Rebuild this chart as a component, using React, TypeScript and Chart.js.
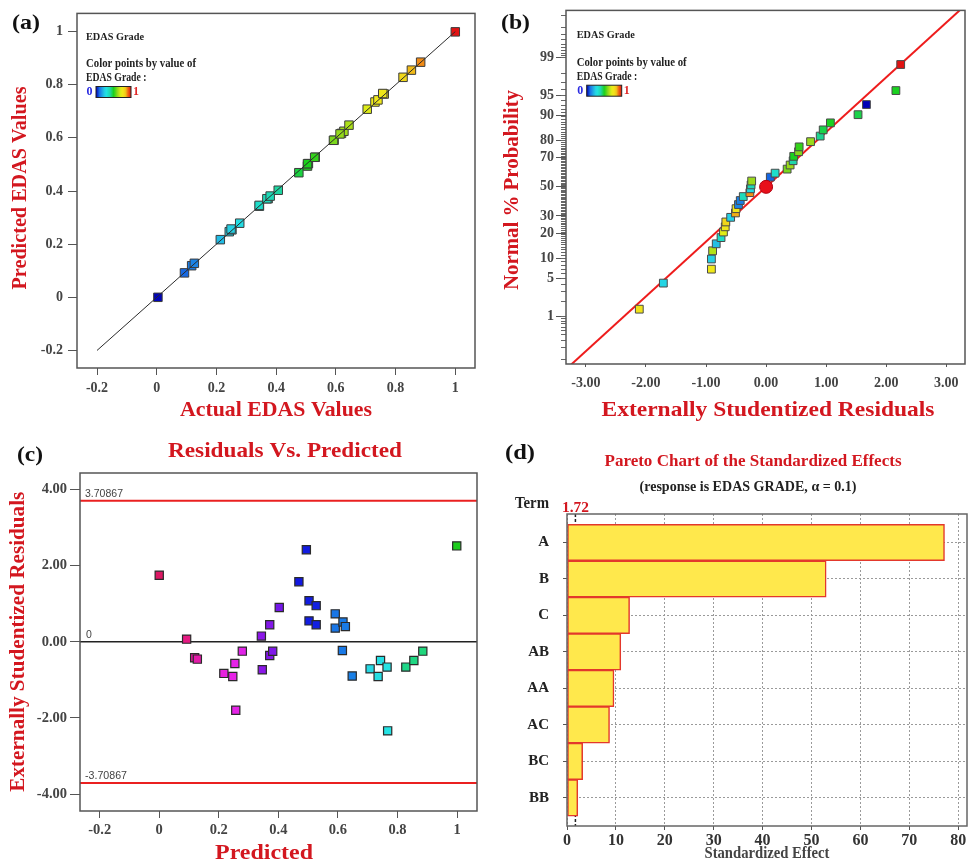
import React, { useEffect, useRef } from 'react';
import { Chart, registerables } from 'chart.js';

Chart.register(...registerables);

// ---------- run data (36 runs) ----------
const runPredicted = [0.000, 0.092, 0.119, 0.128, 0.217, 0.247, 0.254, 0.257, 0.279, 0.343, 0.346, 0.371, 0.371, 0.381, 0.403, 0.469, 0.494, 0.503, 0.503, 0.527, 0.527, 0.591, 0.591, 0.617, 0.625, 0.615, 0.648, 0.708, 0.735, 0.743, 0.765, 0.767, 0.828, 0.855, 0.885, 0.999];
const runActual = [0.004, 0.093, 0.117, 0.126, 0.213, 0.243, 0.252, 0.249, 0.278, 0.344, 0.343, 0.373, 0.369, 0.380, 0.407, 0.476, 0.505, 0.508, 0.505, 0.531, 0.529, 0.594, 0.592, 0.619, 0.627, 0.614, 0.644, 0.705, 0.731, 0.741, 0.762, 0.757, 0.825, 0.853, 0.884, 1.000];
const runResidual = [1.75, 0.07, -0.42, -0.455, -0.83, -0.91, -0.57, -1.80, -0.245, 0.15, -0.735, 0.45, -0.36, -0.25, 0.90, 1.58, 2.42, 1.08, 0.55, 0.95, 0.45, 0.735, 0.36, 0.52, 0.40, -0.23, -0.90, -0.71, -0.91, -0.49, -0.665, -2.34, -0.665, -0.49, -0.245, 2.52];

// ---------- normal probability plot ----------
const normalResiduals = [-2.11, -1.71, -0.91, -0.91, -0.89, -0.83, -0.75, -0.71, -0.68, -0.67, -0.59, -0.51, -0.50, -0.46, -0.43, -0.38, -0.27, -0.26, -0.25, -0.24, 0.07, 0.15, 0.35, 0.40, 0.45, 0.46, 0.54, 0.55, 0.74, 0.90, 0.95, 1.07, 1.53, 1.67, 2.16, 2.24];
const normalPercent = [1.39, 4.17, 6.94, 9.72, 12.5, 15.28, 18.06, 20.83, 23.61, 26.39, 29.17, 31.94, 34.72, 37.5, 40.28, 43.06, 45.83, 48.61, 51.39, 54.17, 56.94, 59.72, 62.5, 65.28, 68.06, 70.83, 73.61, 76.39, 79.17, 81.94, 84.72, 87.5, 90.28, 93.06, 95.83, 98.61];
const normalGrade = [0.77, 0.26, 0.74, 0.25, 0.65, 0.22, 0.35, 0.71, 0.76, 0.83, 0.25, 0.86, 0.74, 0.13, 0.12, 0.37, 0.88, 0.28, 0.38, 0.62, 0.09, 0.34, 0.59, 0.62, 0.40, 0.50, 0.60, 0.53, 0.62, 0.42, 0.47, 0.50, 0.47, 0.00, 0.50, 1.00];
const normalLineX = [-3.4, 3.4];
const normalLineZ = [-3.35, 3.35];
const probabilityTicks = [1, 5, 10, 20, 30, 50, 70, 80, 90, 95, 99];
const normalResidualTicks = [-3, -2, -1, 0, 1, 2, 3];

// ---------- shared tick values ----------
const unitTicks = [-0.2, 0, 0.2, 0.4, 0.6, 0.8, 1];
const diagonal = [-0.2, 1];
const residualTicks = [-4, -2, 0, 2, 4];
const controlLimit = 3.70867;

// ---------- pareto ----------
const paretoTerms = ['A', 'B', 'C', 'AB', 'AA', 'AC', 'BC', 'BB'];
const paretoEffects = [77.2, 53.0, 12.8, 11.0, 9.6, 8.7, 3.2, 2.2];
const paretoCritical = 1.72;
const paretoTicks = [0, 10, 20, 30, 40, 50, 60, 70, 80];

const SERIF = '"Liberation Serif", "Times New Roman", serif';
const SANS = '"Liberation Sans", Arial, sans-serif';
const RED = '#d3171f';

// inverse standard normal CDF (Acklam)
function probit(p: number): number {
  const a = [-3.969683028665376e1, 2.209460984245205e2, -2.759285104469687e2, 1.38357751867269e2, -3.066479806614716e1, 2.506628277459239];
  const b = [-5.447609879822406e1, 1.615858368580409e2, -1.556989798598866e2, 6.680131188771972e1, -1.328068155288572e1];
  const c = [-7.784894002430293e-3, -3.223964580411365e-1, -2.400758276161838, -2.549732539343734, 4.374664141464968, 2.938163982698783];
  const d = [7.784695709041462e-3, 3.224671290700398e-1, 2.445134137142996, 3.754408661907416];
  const pl = 0.02425;
  if (p < pl) {
    const q = Math.sqrt(-2 * Math.log(p));
    return (((((c[0] * q + c[1]) * q + c[2]) * q + c[3]) * q + c[4]) * q + c[5]) / ((((d[0] * q + d[1]) * q + d[2]) * q + d[3]) * q + 1);
  }
  if (p > 1 - pl) {
    const q = Math.sqrt(-2 * Math.log(1 - p));
    return -(((((c[0] * q + c[1]) * q + c[2]) * q + c[3]) * q + c[4]) * q + c[5]) / ((((d[0] * q + d[1]) * q + d[2]) * q + d[3]) * q + 1);
  }
  const q = p - 0.5;
  const r = q * q;
  return ((((((a[0] * r + a[1]) * r + a[2]) * r + a[3]) * r + a[4]) * r + a[5]) * q) / (((((b[0] * r + b[1]) * r + b[2]) * r + b[3]) * r + b[4]) * r + 1);
}

type Stop = [number, number, number, number];
function colorAt(stops: Stop[], t: number): string {
  const v = Math.max(stops[0][0], Math.min(stops[stops.length - 1][0], t));
  let i = 0;
  while (i < stops.length - 2 && v > stops[i + 1][0]) i++;
  const s0 = stops[i];
  const s1 = stops[i + 1];
  const f = (v - s0[0]) / (s1[0] - s0[0] || 1);
  const h = s0[1] + (s1[1] - s0[1]) * f;
  const s = s0[2] + (s1[2] - s0[2]) * f;
  const l = s0[3] + (s1[3] - s0[3]) * f;
  return `hsl(${h.toFixed(1)}, ${s.toFixed(1)}%, ${l.toFixed(1)}%)`;
}

// blue -> cyan -> green -> yellow -> red scale for the EDAS grade
const gradeStops: Stop[] = [
  [0, 240, 100, 36], [0.1, 214, 80, 50], [0.25, 186, 78, 52], [0.4, 166, 75, 48], [0.5, 122, 78, 46],
  [0.62, 80, 78, 48], [0.74, 58, 88, 52], [0.84, 52, 88, 52], [0.87, 36, 90, 52], [1, 0, 85, 48],
];
const gradeColor = (g: number) => colorAt(gradeStops, g);

// run colouring used on the residuals-vs-predicted panel
const runStops: Stop[] = [
  [0, 337, 80, 48], [0.09, 330, 80, 50], [0.125, 318, 78, 50], [0.22, 302, 80, 52], [0.28, 298, 80, 52],
  [0.34, 274, 82, 50], [0.4, 268, 82, 50], [0.47, 238, 85, 48], [0.53, 236, 85, 48], [0.59, 213, 80, 50],
  [0.65, 210, 80, 50], [0.7, 184, 78, 52], [0.77, 180, 78, 52], [0.82, 155, 75, 48], [0.89, 150, 75, 48], [1, 120, 75, 46],
];
const runColor = (p: number) => colorAt(runStops, p);

interface TextOpts {
  size: number;
  color: string;
  width?: number;
  align?: CanvasTextAlign;
  rotate?: number;
  weight?: string;
  family?: string;
}

// text drawn at a given font size, optionally stretched horizontally to a target width
function drawText(ctx: CanvasRenderingContext2D, text: string, x: number, y: number, o: TextOpts) {
  const weight = o.weight ?? 'bold';
  const family = o.family ?? SERIF;
  ctx.save();
  ctx.font = `${weight} ${o.size}px ${family}`;
  ctx.translate(x, y);
  if (o.rotate) ctx.rotate(o.rotate);
  if (o.width) {
    const w = ctx.measureText(text).width;
    if (w > 0) ctx.scale(o.width / w, 1);
  }
  ctx.fillStyle = o.color;
  ctx.textAlign = o.align ?? 'center';
  ctx.textBaseline = 'middle';
  ctx.fillText(text, 0, 0);
  ctx.restore();
}

function drawFrame(chart: any, color = '#555', width = 1.5) {
  const { ctx, chartArea: a } = chart;
  ctx.save();
  ctx.strokeStyle = color;
  ctx.lineWidth = width;
  ctx.strokeRect(a.left, a.top, a.right - a.left, a.bottom - a.top);
  ctx.restore();
}

function drawGradeLegend(ctx: CanvasRenderingContext2D, x: number, y: number) {
  drawText(ctx, 'EDAS Grade', x, y, { size: 10.5, color: '#222', width: 58, align: 'left' });
  drawText(ctx, 'Color points by value of', x, y + 27.5, { size: 11.5, color: '#222', width: 110, align: 'left' });
  drawText(ctx, 'EDAS Grade :', x, y + 41, { size: 11.5, color: '#222', width: 60.5, align: 'left' });
  const by = y + 55;
  drawText(ctx, '0', x + 3.5, by, { size: 12, color: '#2a2ae0' });
  const grad = ctx.createLinearGradient(x + 10, 0, x + 45, 0);
  for (let i = 0; i <= 20; i++) grad.addColorStop(i / 20, gradeColor(i / 20));
  ctx.save();
  ctx.fillStyle = grad;
  ctx.fillRect(x + 10, by - 5.5, 35, 11);
  ctx.strokeStyle = '#222';
  ctx.lineWidth = 1;
  ctx.strokeRect(x + 10, by - 5.5, 35, 11);
  ctx.restore();
  drawText(ctx, '1', x + 50, by, { size: 12, color: '#e02828' });
}

interface AxisCfg {
  min: number;
  max: number;
  thickness: number;
  values: number[];
  label: (i: number) => string;
  tickLength: number;
  padding: number;
  fontSize: number;
  isX: boolean;
  reverse?: boolean;
  color?: string;
  gridOnArea?: boolean;
  gridColor?: string;
  dash?: number[];
}

function makeAxis(cfg: AxisCfg) {
  return {
    type: 'linear',
    min: cfg.min,
    max: cfg.max,
    reverse: cfg.reverse ?? false,
    offset: false,
    afterFit: (s: any) => {
      if (cfg.isX) s.height = cfg.thickness;
      else s.width = cfg.thickness;
    },
    afterBuildTicks: (s: any) => {
      s.ticks = cfg.values.map((v) => ({ value: v }));
    },
    ticks: {
      autoSkip: false,
      maxRotation: 0,
      minRotation: 0,
      padding: cfg.padding,
      color: cfg.color ?? '#444',
      font: { family: SERIF, size: cfg.fontSize, weight: 'bold' },
      callback: (_v: any, i: number) => cfg.label(i),
    },
    grid: {
      display: true,
      offset: false,
      drawOnChartArea: !!cfg.gridOnArea,
      drawTicks: true,
      tickLength: cfg.tickLength,
      color: cfg.gridColor ?? '#555',
      tickColor: '#555',
      tickBorderDash: [],
      lineWidth: 1,
    },
    border: { display: false, dash: cfg.dash ?? [] },
  };
}

const baseOptions = {
  responsive: false,
  animation: false,
  devicePixelRatio: 1,
  events: [] as string[],
  plugins: { legend: { display: false }, tooltip: { enabled: false }, title: { display: false } },
};

const fmtUnit = (v: number) => (v === 0 ? '0' : v === 1 ? '1' : v.toFixed(1));

// (a) predicted vs actual
function panelA(): any {
  return {
    type: 'scatter',
    data: {
      datasets: [
        {
          data: runActual.map((a, i) => ({ x: a, y: runPredicted[i] })),
          pointStyle: 'rect',
          pointRadius: 6,
          pointBackgroundColor: runActual.map(gradeColor),
          pointBorderColor: '#3c3c3c',
          pointBorderWidth: 1,
          order: 1,
        },
        {
          data: diagonal.map((v) => ({ x: v, y: v })),
          showLine: true,
          borderColor: '#2a2a2a',
          borderWidth: 1,
          pointRadius: 0,
          order: 0,
        },
      ],
    },
    options: {
      ...baseOptions,
      layout: { autoPadding: false, padding: { left: 0, top: 9, right: 11, bottom: 0 } },
      scales: {
        x: makeAxis({ min: -0.267, max: 1.066, thickness: 62, values: unitTicks, label: (i) => fmtUnit(unitTicks[i]), tickLength: 7, padding: 5, fontSize: 14, isX: true }),
        y: makeAxis({ min: -0.266, max: 1.0685, thickness: 77, values: unitTicks, label: (i) => fmtUnit(unitTicks[i]), tickLength: 9, padding: 5, fontSize: 14, isX: false }),
      },
    },
    plugins: [
      {
        id: 'panelA',
        afterDraw(chart: any) {
          const ctx = chart.ctx;
          drawFrame(chart);
          drawText(ctx, '(a)', 26, 23, { size: 22, color: '#111', width: 28 });
          drawText(ctx, 'Actual EDAS Values', 276, 410, { size: 21.5, color: RED, width: 192 });
          drawText(ctx, 'Predicted EDAS Values', 20, 188, { size: 21.5, color: RED, width: 203, rotate: -Math.PI / 2 });
          drawGradeLegend(ctx, 86, 37);
        },
      },
    ],
  };
}

// (b) normal probability of residuals
function panelB(): any {
  const zTicks = probabilityTicks.map((p) => probit(p / 100));
  const minorPercents: number[] = [];
  for (let k = 1; k <= 9; k++) minorPercents.push(k / 10);
  for (let k = 1; k <= 99; k++) minorPercents.push(k);
  for (let k = 1; k <= 9; k++) minorPercents.push(99 + k / 10);
  return {
    type: 'scatter',
    data: {
      datasets: [
        {
          data: [{ x: 0, y: probit(0.5) }],
          pointStyle: 'circle',
          pointRadius: 6.5,
          pointBackgroundColor: '#e8101a',
          pointBorderColor: '#b00010',
          pointBorderWidth: 1,
          order: 0,
        },
        {
          data: normalResiduals.map((r, i) => ({ x: r, y: probit(normalPercent[i] / 100) })),
          pointStyle: 'rect',
          pointRadius: 5.5,
          pointBackgroundColor: normalGrade.map(gradeColor),
          pointBorderColor: '#4a4a4a',
          pointBorderWidth: 1,
          order: 1,
        },
        {
          data: normalLineX.map((x, i) => ({ x, y: normalLineZ[i] })),
          showLine: true,
          borderColor: '#ee1c1c',
          borderWidth: 2,
          pointRadius: 0,
          order: 2,
        },
      ],
    },
    options: {
      ...baseOptions,
      layout: { autoPadding: false, padding: { left: 0, top: 7, right: 8, bottom: 0 } },
      scales: {
        x: makeAxis({ min: -3.33, max: 3.31, thickness: 66, values: normalResidualTicks, label: (i) => normalResidualTicks[i].toFixed(2), tickLength: 3, padding: 8, fontSize: 14, isX: true }),
        y: makeAxis({ min: -3.186, max: 3.173, thickness: 80, values: zTicks, label: (i) => String(probabilityTicks[i]), tickLength: 10, padding: 2, fontSize: 14, isX: false }),
      },
    },
    plugins: [
      {
        id: 'panelB',
        afterDraw(chart: any) {
          const { ctx, chartArea: a } = chart;
          const ys = chart.scales.y;
          ctx.save();
          ctx.strokeStyle = '#666';
          ctx.lineWidth = 1;
          for (const p of minorPercents) {
            const py = Math.round(ys.getPixelForValue(probit(p / 100))) + 0.5;
            if (py < a.top || py > a.bottom) continue;
            ctx.beginPath();
            ctx.moveTo(a.left - 5, py);
            ctx.lineTo(a.left, py);
            ctx.stroke();
          }
          ctx.restore();
          drawFrame(chart);
          drawText(ctx, '(b)', 29.5, 23, { size: 22, color: '#111', width: 29 });
          drawText(ctx, 'Externally Studentized Residuals', 282, 410, { size: 21.5, color: RED, width: 333 });
          drawText(ctx, 'Normal % Probability', 26, 190, { size: 21.5, color: RED, width: 200, rotate: -Math.PI / 2 });
          drawGradeLegend(ctx, 90.7, 35.7);
        },
      },
    ],
  };
}

// (c) residuals vs predicted
function panelC(): any {
  const span = [-0.4, 1.2];
  return {
    type: 'scatter',
    data: {
      datasets: [
        {
          data: runPredicted.map((p, i) => ({ x: p, y: runResidual[i] })),
          pointStyle: 'rect',
          pointRadius: 5.8,
          pointBackgroundColor: runPredicted.map(runColor),
          pointBorderColor: '#2a2a2a',
          pointBorderWidth: 1.2,
          order: 0,
        },
        {
          data: span.map((x) => ({ x, y: 0 })),
          showLine: true,
          borderColor: '#222',
          borderWidth: 1.5,
          pointRadius: 0,
          order: 1,
        },
        {
          data: span.map((x) => ({ x, y: controlLimit })),
          showLine: true,
          borderColor: '#ea2020',
          borderWidth: 2,
          pointRadius: 0,
          order: 1,
        },
        {
          data: span.map((x) => ({ x, y: -controlLimit })),
          showLine: true,
          borderColor: '#ea2020',
          borderWidth: 2,
          pointRadius: 0,
          order: 1,
        },
      ],
    },
    options: {
      ...baseOptions,
      layout: { autoPadding: false, padding: { left: 0, top: 43, right: 9, bottom: 0 } },
      scales: {
        x: makeAxis({ min: -0.266, max: 1.067, thickness: 55, values: unitTicks, label: (i) => fmtUnit(unitTicks[i]), tickLength: 7, padding: 4, fontSize: 14.5, isX: true }),
        y: makeAxis({ min: -4.446, max: 4.436, thickness: 80, values: residualTicks, label: (i) => residualTicks[i].toFixed(2), tickLength: 10, padding: 3, fontSize: 14.5, isX: false }),
      },
    },
    plugins: [
      {
        id: 'panelC',
        afterDraw(chart: any) {
          const { ctx, chartArea: a } = chart;
          const ys = chart.scales.y;
          drawFrame(chart);
          drawText(ctx, controlLimit.toString(), a.left + 5, ys.getPixelForValue(controlLimit) - 7, { size: 10.5, color: '#444', weight: 'normal', family: SANS, width: 38, align: 'left' });
          drawText(ctx, (-controlLimit).toString(), a.left + 5, ys.getPixelForValue(-controlLimit) - 7, { size: 10.5, color: '#444', weight: 'normal', family: SANS, width: 42, align: 'left' });
          drawText(ctx, '0', a.left + 6, ys.getPixelForValue(0) - 7, { size: 10.5, color: '#444', weight: 'normal', family: SANS, align: 'left' });
          drawText(ctx, '(c)', 30, 25, { size: 22, color: '#111', width: 26 });
          drawText(ctx, 'Residuals Vs. Predicted', 285, 21, { size: 21.5, color: RED, width: 234 });
          drawText(ctx, 'Predicted', 264, 423, { size: 21.5, color: RED, width: 98 });
          drawText(ctx, 'Externally Studentized Residuals', 18, 211.7, { size: 21.5, color: RED, width: 300, rotate: -Math.PI / 2 });
        },
      },
    ],
  };
}

// (d) pareto chart of standardized effects
function panelD(): any {
  const termIdx = paretoTerms.map((_, i) => i);
  return {
    type: 'bar',
    data: {
      datasets: [
        {
          data: paretoEffects.map((v, i) => ({ x: v, y: i })),
          backgroundColor: '#ffe84c',
          borderColor: '#e3382c',
          borderWidth: 1.5,
          borderSkipped: false,
          barPercentage: 1,
          categoryPercentage: 1,
        },
      ],
    },
    options: {
      ...baseOptions,
      indexAxis: 'y',
      layout: { autoPadding: false, padding: { left: 0, top: 84, right: 6, bottom: 0 } },
      scales: {
        x: makeAxis({ min: 0, max: 81.8, thickness: 40, values: paretoTicks, label: (i) => String(paretoTicks[i]), tickLength: 4, padding: 1, fontSize: 16, isX: true, color: '#333', gridOnArea: true, gridColor: '#9a9a9a', dash: [2, 2] }),
        y: makeAxis({ min: -0.78, max: 7.77, thickness: 81, values: termIdx, label: (i) => paretoTerms[i], tickLength: 4, padding: 14, fontSize: 15, isX: false, reverse: true, color: '#222', gridOnArea: true, gridColor: '#9a9a9a', dash: [2, 2] }),
      },
    },
    plugins: [
      {
        id: 'panelD',
        beforeDatasetsDraw(chart: any) {
          const { ctx, chartArea: a } = chart;
          const px = chart.scales.x.getPixelForValue(paretoCritical);
          ctx.save();
          ctx.strokeStyle = '#222';
          ctx.lineWidth = 1.5;
          ctx.setLineDash([3, 2]);
          ctx.beginPath();
          ctx.moveTo(px, a.top);
          ctx.lineTo(px, a.bottom);
          ctx.stroke();
          ctx.restore();
        },
        afterDraw(chart: any) {
          const ctx = chart.ctx;
          drawFrame(chart, '#666', 1.5);
          const px = chart.scales.x.getPixelForValue(paretoCritical);
          drawText(ctx, '(d)', 34, 23, { size: 22, color: '#111', width: 30 });
          drawText(ctx, 'Pareto Chart of the Standardized Effects', 267, 31.7, { size: 17, color: RED, width: 297 });
          drawText(ctx, '(response is EDAS GRADE, \u03b1 = 0.1)', 262, 56.7, { size: 15, color: '#222', width: 217 });
          drawText(ctx, 'Term', 46, 74, { size: 16, color: '#222', width: 34 });
          drawText(ctx, paretoCritical.toFixed(2), px, 78.3, { size: 14, color: RED, width: 27 });
          drawText(ctx, 'Standardized Effect', 281, 424.3, { size: 16, color: '#444', width: 125 });
        },
      },
    ],
  };
}

function ChartBox({ x, y, w, h, make }: { x: number; y: number; w: number; h: number; make: () => any }) {
  const ref = useRef<HTMLCanvasElement | null>(null);
  useEffect(() => {
    if (!ref.current) return;
    const chart = new Chart(ref.current, make());
    return () => chart.destroy();
  }, [make]);
  return <canvas ref={ref} width={w} height={h} style={{ position: 'absolute', left: x, top: y, width: w, height: h }} />;
}

export default function App() {
  return (
    <div style={{ position: 'absolute', left: 0, top: 0, width: 973, height: 866, background: '#fff', overflow: 'hidden' }}>
      <ChartBox x={0} y={0} w={486} h={430} make={panelA} />
      <ChartBox x={486} y={0} w={487} h={430} make={panelB} />
      <ChartBox x={0} y={430} w={486} h={436} make={panelC} />
      <ChartBox x={486} y={430} w={487} h={436} make={panelD} />
    </div>
  );
}
